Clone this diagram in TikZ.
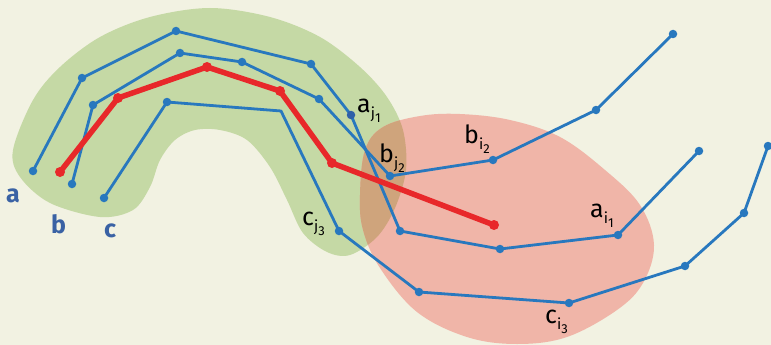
\documentclass[tikz,border=0pt]{standalone}
\usepackage{fontspec}
\setmainfont{Fira Sans}
\definecolor{bgc}{HTML}{F2F2E2}
\definecolor{greenblob}{HTML}{C5D9A5}
\definecolor{redblob}{HTML}{F0B5A8}
\definecolor{overlap}{HTML}{CFA47C}
\definecolor{lineblue}{HTML}{2878BE}
\definecolor{darkdot}{HTML}{3060A8}
\definecolor{linered}{HTML}{E8282A}
\definecolor{labblue}{HTML}{3A62A4}
\newcommand\mylbl[3]{#1\raisebox{-6pt}{\fontsize{15}{15}\selectfont #2\raisebox{-4pt}{\fontsize{13}{13}\selectfont #3}}}
\tikzset{
  bluepath/.style={draw=lineblue, line width=2.8pt, line join=round, line cap=round},
  redpath/.style={draw=linered, line width=5.5pt, line join=round, line cap=round},
  bdot/.style={circle, fill=lineblue, inner sep=0pt, minimum size=8.5pt},
  rdot/.style={circle, fill=linered, inner sep=0pt, minimum size=10pt},
  lab/.style={anchor=base west, inner sep=0pt, font=\fontsize{25}{25}\selectfont, text=black},
  boldlab/.style={anchor=base west, inner sep=0pt, font=\fontsize{25}{25}\selectfont\bfseries, text=labblue},
}
\begin{document}
\begin{tikzpicture}[x=1pt,y=-1pt]
\fill[bgc] (0,0) rectangle (771,345);
\useasboundingbox (0,0) rectangle (771,345);
% blobs
\def\greenshape{plot[smooth cycle, tension=0.55] coordinates {(13,150) (20,177) (50,203) (100,217) (133,210) (150,187) (160,160) (175,140) (195,130) (220,130) (247,140) (270,167) (287,200) (303,233) (327,252) (350,255) (377,237) (395,208) (406,170) (403,130) (387,97) (360,67) (320,37) (270,17) (210,8) (150,17) (100,37) (60,67) (33,100)}}
\def\redshape{plot[smooth cycle, tension=0.6] coordinates {(360,195) (365,150) (383,127) (420,116) (460,114) (510,120) (560,137) (605,170) (640,205) (654,245) (643,283) (617,310) (567,337) (517,344) (467,337) (417,312) (380,268) (363,230)}}
\fill[greenblob] \greenshape;
\fill[redblob] \redshape;
\begin{scope}
\clip \greenshape;
\fill[overlap] \redshape;
\end{scope}
% vertices of polyline a
\coordinate (a1) at (33,171);
\coordinate (a2) at (82,78);
\coordinate (a3) at (176,31);
\coordinate (a4) at (311,64);
\coordinate (a5) at (351,115);
\coordinate (a6) at (400,231);
\coordinate (a7) at (500,249);
\coordinate (a8) at (618,235);
\coordinate (a9) at (699,151);
% vertices of polyline b
\coordinate (b1) at (72,184);
\coordinate (b2) at (93,105);
\coordinate (b3) at (180,53);
\coordinate (b4) at (242,62);
\coordinate (b5) at (319,99);
\coordinate (b6) at (390,176);
\coordinate (b7) at (493,160);
\coordinate (b8) at (596,110);
\coordinate (b9) at (673,34);
% vertices of polyline c
\coordinate (c1) at (104,198);
\coordinate (c2) at (167,102);
\coordinate (c3) at (281,111);
\coordinate (c4) at (339,231);
\coordinate (c5) at (419,292);
\coordinate (c6) at (569,303);
\coordinate (c7) at (685,266);
\coordinate (c8) at (744,213);
\coordinate (c9) at (768,146);
% red polyline
\coordinate (r1) at (60,172);
\coordinate (r2) at (118,98);
\coordinate (r3) at (207,67);
\coordinate (r4) at (280,91);
\coordinate (r5) at (332,163);
\coordinate (r6) at (494,225);
\draw[bluepath] (a1) -- (a2) -- (a3) -- (a4) -- (a5) -- (a6) -- (a7) -- (a8) -- (a9);
\draw[bluepath] (b1) -- (b2) -- (b3) -- (b4) -- (b5) -- (b6) -- (b7) -- (b8) -- (b9);
\draw[bluepath] (c1) -- (c2) -- (c3) -- (c4) -- (c5) -- (c6) -- (c7) -- (c8) -- (c9);
\draw[redpath] (r1) -- (r2) -- (r3) -- (r4) -- (r5) -- (r6);
% dots
\foreach \p in {a1,a2,a3,a4,a6,a7,a8,a9,b1,b2,b3,b4,b5,b6,b7,b8,b9,c1,c2,c4,c5,c6,c7,c8,c9}
  \node[bdot] (d\p) at (\p) {};
\node[bdot, fill=darkdot] (da5) at (a5) {};
\foreach \p in {r1,r2,r3,r4,r5,r6}
  \node[rdot] (d\p) at (\p) {};
% labels
\node[lab] (laj1) at (357,112) {\mylbl{a}{j}{1}};
\node[lab] (lbj2) at (379,162) {\mylbl{b}{j}{2}};
\node[lab] (lcj3) at (302,225) {\mylbl{c}{j}{3}};
\node[lab] (lbi2) at (464,143) {\mylbl{b}{i}{2}};
\node[lab] (lai1) at (590,217) {\mylbl{a}{i}{1}};
\node[lab] (lci3) at (545,323) {\mylbl{c}{i}{3}};
\node[boldlab] (la) at (6,202) {a};
\node[boldlab] (lb) at (51,233) {b};
\node[boldlab] (lc) at (104,237) {c};
\end{tikzpicture}
\end{document}
